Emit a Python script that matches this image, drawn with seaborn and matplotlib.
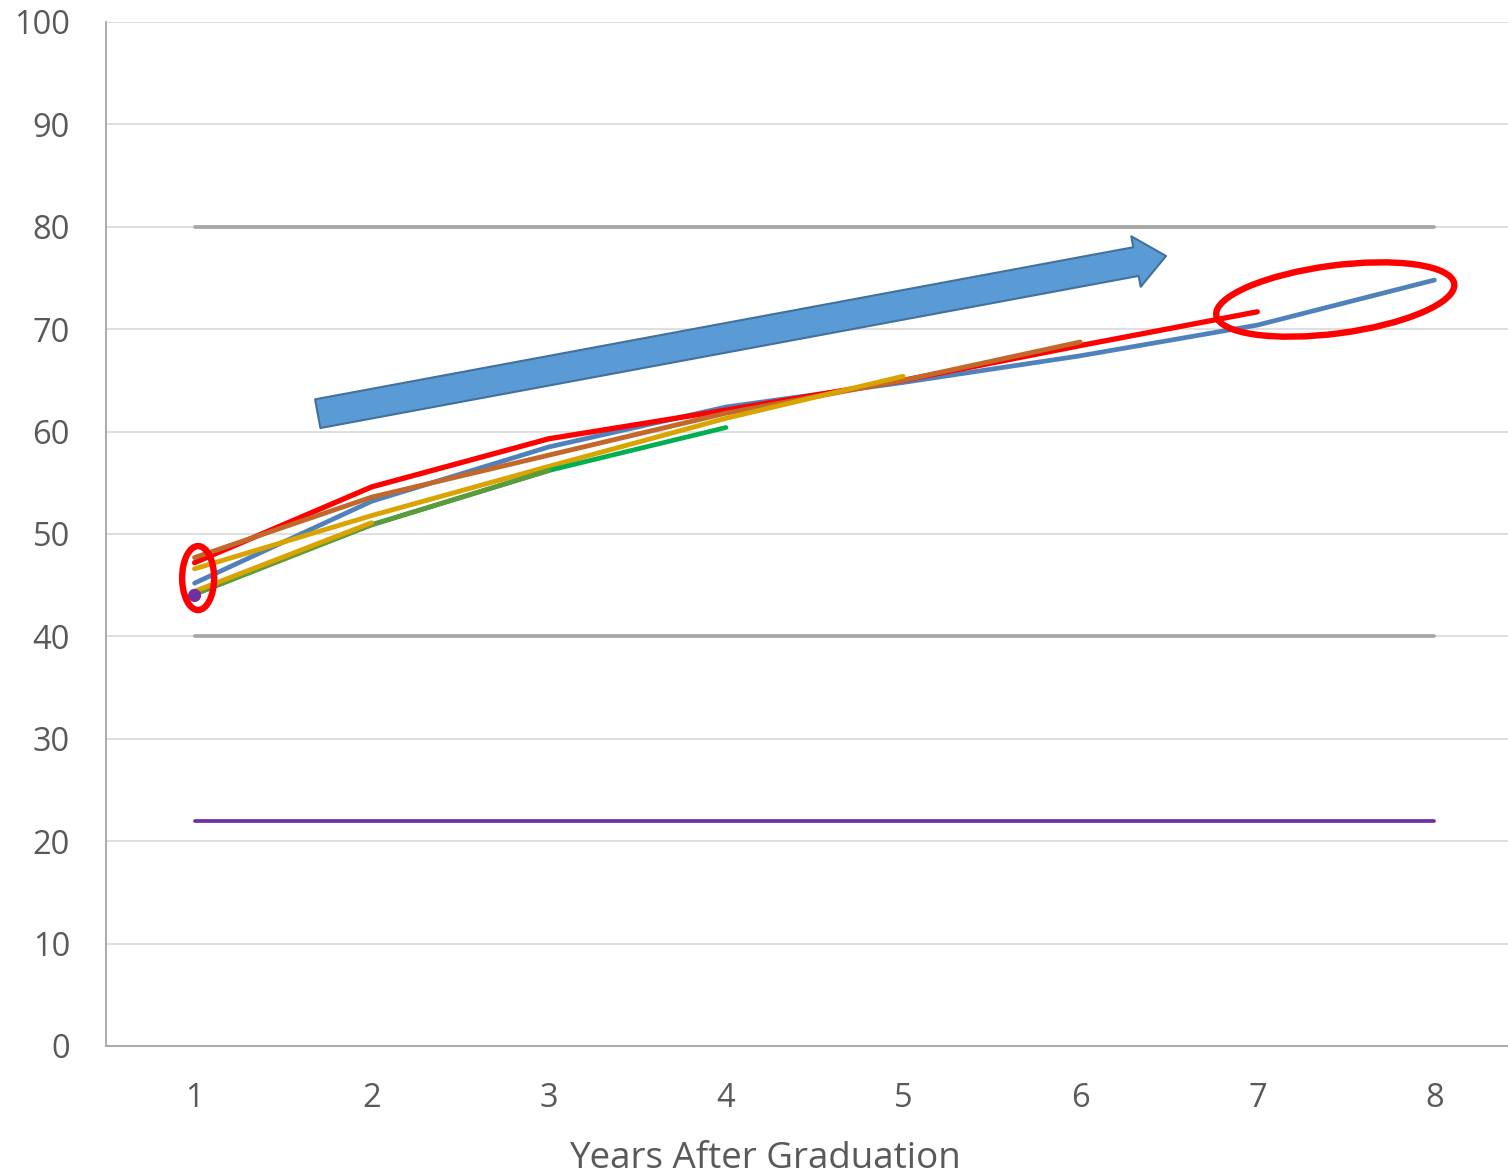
import numpy as np
import pandas as pd
import matplotlib
matplotlib.use("Agg")
import matplotlib.pyplot as plt
import matplotlib.transforms as mtransforms
from matplotlib.patches import Ellipse, FancyArrowPatch
import seaborn as sns

# ---------------- data ----------------
years = [1, 2, 3, 4, 5, 6, 7, 8]
cohort_8yr = [45.2, 53.2, 58.5, 62.4, 64.8, 67.4, 70.4, 74.8]
cohort_7yr = [47.2, 54.6, 59.3, 62.1, 65.0, 68.4, 71.7]
cohort_6yr = [47.7, 53.6, 57.7, 61.8, 65.0, 68.75]
cohort_5yr = [46.6, 51.8, 56.6, 61.3, 65.4]
cohort_4yr = [44.3, 50.9, 56.2, 60.4]
cohort_3yr = [44.1, 50.9, 56.2]
cohort_2yr = [44.4, 51.1]
cohort_1yr = [44.0]
upper_ref = 80
lower_ref = 40
base_ref = 22

series_names = ["8 yr", "7 yr", "6 yr", "5 yr", "4 yr", "3 yr", "2 yr"]
series_vals = [cohort_8yr, cohort_7yr, cohort_6yr, cohort_5yr, cohort_4yr, cohort_3yr, cohort_2yr]
palette = {"8 yr": "#4F81BD", "7 yr": "#FF0000", "6 yr": "#C4672A", "5 yr": "#D9A300",
           "4 yr": "#00B050", "3 yr": "#5E9A3C", "2 yr": "#D9A300"}
widths = {"8 yr": 3.4, "7 yr": 3.8, "6 yr": 3.5, "5 yr": 3.5, "4 yr": 3.4, "3 yr": 3.4, "2 yr": 3.5}

rows = []
for name, vals in zip(series_names, series_vals):
    for x, v in zip(years, vals):
        rows.append({"Year": x, "Value": v, "Series": name})
df = pd.DataFrame(rows)

ref_df = pd.DataFrame({
    "Year": years * 3,
    "Value": [upper_ref] * 8 + [lower_ref] * 8 + [base_ref] * 8,
    "Ref": ["upper"] * 8 + ["lower"] * 8 + ["base"] * 8,
})

# ---------------- figure ----------------
sns.set_theme(style="white")
plt.rcParams["font.family"] = ["Open Sans", "DejaVu Sans"]

fig = plt.figure(figsize=(15.08, 11.74), dpi=100)
ax = fig.add_axes([106 / 1508, 128 / 1174, 1417 / 1508, 1024 / 1174])

# reference lines
sns.lineplot(data=ref_df, x="Year", y="Value", hue="Ref",
             palette={"upper": "#A6A6A6", "lower": "#A6A6A6", "base": "#7030A0"},
             linewidth=2.7, legend=False, ax=ax, estimator=None, sort=False)

for name in series_names:
    sub = df[df["Series"] == name]
    sns.lineplot(data=sub, x="Year", y="Value", color=palette[name],
                 linewidth=widths[name], legend=False, ax=ax,
                 estimator=None, sort=False, solid_capstyle="round")

sns.scatterplot(x=years[:len(cohort_1yr)], y=cohort_1yr, color="#7030A0",
                s=90, edgecolor="none", ax=ax, zorder=5, legend=False)

ax.set_xlim(0.5, 8.5)
ax.set_ylim(0, 100)
ax.set_yticks(np.arange(0, 101, 10))
ax.set_xticks(years)
ax.set_xticklabels([str(y) for y in years])
ax.yaxis.grid(True, color="#D9D9D9", linewidth=1.2)
ax.set_axisbelow(True)
for s in ["top", "right"]:
    ax.spines[s].set_visible(False)
for s in ["left", "bottom"]:
    ax.spines[s].set_color("#A6A6A6")
    ax.spines[s].set_linewidth(1.3)
ax.tick_params(axis="both", length=0, labelsize=23.5, labelcolor="#595959")
ax.tick_params(axis="y", pad=26)
ax.tick_params(axis="x", pad=26)
ax.set_xlabel("Years After Graduation", fontsize=26.5, color="#595959")
ax.xaxis.set_label_coords((765 - 106) / 1417, -(1177 - 1046) / 1024, transform=ax.transAxes)
ax.xaxis.label.set_verticalalignment("bottom")
ax.set_ylabel("")

# annotation arrow
arrow = FancyArrowPatch((1.68, 61.7), (6.5, 77.2),
                        arrowstyle="simple,head_length=2.2,head_width=3.7,tail_width=2.1",
                        mutation_scale=10, facecolor="#5B9BD5", edgecolor="#41719C",
                        linewidth=1.5, zorder=6)
ax.add_patch(arrow)

# red ellipses
def ring(cx, cy, w, h, ang):
    tr = fig.dpi_scale_trans + mtransforms.ScaledTranslation(cx, cy, ax.transData)
    e = Ellipse((0, 0), w, h, angle=ang, fill=False, edgecolor="#FF0000",
                linewidth=4.6, transform=tr, zorder=7)
    ax.add_patch(e)

ring(1.02, 45.7, 0.32, 0.64, 0)
ring(7.44, 72.9, 2.4, 0.68, 7.5)

fig.savefig("out.png", dpi=100)
